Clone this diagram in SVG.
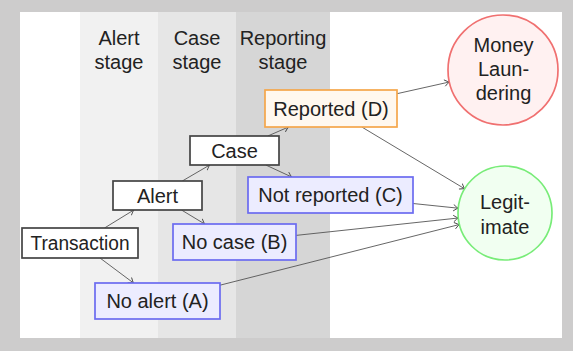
<svg xmlns="http://www.w3.org/2000/svg" width="573" height="351" viewBox="0 0 573 351">
  <defs>
    <marker id="tip" viewBox="-6 -4 8 8" refX="0" refY="0" markerWidth="8" markerHeight="8" markerUnits="userSpaceOnUse" orient="auto">
      <path d="M-4.5,-3 Q-1.5,-0.6 0,0 Q-1.5,0.6 -4.5,3" fill="none" stroke="#444" stroke-width="0.9" stroke-linecap="round"/>
    </marker>
  </defs>
  <style>
    text { font-family: "Liberation Sans", Arial, sans-serif; font-size: 20px; fill: #222; text-anchor: middle; }
    .box { fill: #ffffff; stroke: #444; stroke-width: 1.7; }
    .neg { fill: #ececff; stroke: #6b6bf0; stroke-width: 1.7; }
    .rep { fill: #fff8ef; stroke: #f5a64a; stroke-width: 1.7; }
    .ml { fill: #fff1f1; stroke: #f07070; stroke-width: 1.7; }
    .ok { fill: #f1fff1; stroke: #78ec78; stroke-width: 1.7; }
    .edge { fill: none; stroke: #555; stroke-width: 0.9; marker-end: url(#tip); }
  </style>

  <!-- frame and canvas -->
  <rect x="0" y="0" width="573" height="351" fill="#cdcccc"/>
  <rect x="20" y="12" width="542" height="326" fill="#ffffff"/>

  <!-- stage columns -->
  <g id="stages">
    <rect x="80" y="12" width="78" height="326" fill="#f1f1f1"/>
    <rect x="158" y="12" width="78" height="326" fill="#e6e6e6"/>
    <rect x="236" y="12" width="94" height="326" fill="#d6d6d6"/>
    <text x="119" y="45">Alert</text>
    <text x="119" y="69">stage</text>
    <text x="197" y="45">Case</text>
    <text x="197" y="69">stage</text>
    <text x="283" y="45">Reporting</text>
    <text x="283" y="69">stage</text>
  </g>

  <!-- connectors -->
  <g id="connectors">
    <line class="edge" x1="104.5" y1="228" x2="133.8" y2="210"/>
    <line class="edge" x1="100" y1="258" x2="133.5" y2="283"/>
    <line class="edge" x1="182.3" y1="181" x2="209.7" y2="165"/>
    <line class="edge" x1="181.5" y1="210" x2="204.7" y2="224"/>
    <line class="edge" x1="267.8" y1="136" x2="288.5" y2="127"/>
    <line class="edge" x1="265.8" y1="165" x2="291.7" y2="177"/>
    <line class="edge" x1="397" y1="93.7" x2="449.3" y2="82"/>
    <line class="edge" x1="361.8" y1="127" x2="464.7" y2="188.8"/>
    <line class="edge" x1="413" y1="203.5" x2="458.2" y2="208.2"/>
    <line class="edge" x1="296" y1="235.4" x2="458.3" y2="218"/>
    <line class="edge" x1="220" y1="285.2" x2="459.4" y2="224.5"/>
  </g>

  <g id="transaction">
    <rect class="box" x="22" y="228" width="116" height="30"/>
    <text x="80" y="250" textLength="99" lengthAdjust="spacingAndGlyphs">Transaction</text>
  </g>
  <g id="alert">
    <rect class="box" x="113" y="181" width="89" height="29"/>
    <text x="157.5" y="202.5">Alert</text>
  </g>
  <g id="case">
    <rect class="box" x="190" y="136" width="89" height="29"/>
    <text x="234.5" y="157.5">Case</text>
  </g>
  <g id="no-alert">
    <rect class="neg" x="95" y="283" width="125" height="36"/>
    <text x="157.5" y="308">No alert (A)</text>
  </g>
  <g id="no-case">
    <rect class="neg" x="173" y="224" width="123" height="36"/>
    <text x="234.5" y="249">No case (B)</text>
  </g>
  <g id="not-reported">
    <rect class="neg" x="248" y="177" width="165" height="36"/>
    <text x="330.5" y="202">Not reported (C)</text>
  </g>
  <g id="reported">
    <rect class="rep" x="265" y="90" width="132" height="37"/>
    <text x="331" y="115.5">Reported (D)</text>
  </g>
  <g id="money-laundering">
    <circle class="ml" cx="503" cy="70" r="55"/>
    <text x="503.5" y="52">Money</text>
    <text x="503.5" y="76">Laun-</text>
    <text x="503.5" y="100">dering</text>
  </g>
  <g id="legitimate">
    <circle class="ok" cx="505" cy="213" r="47"/>
    <text x="505" y="209">Legit-</text>
    <text x="505" y="234">imate</text>
  </g>
</svg>
